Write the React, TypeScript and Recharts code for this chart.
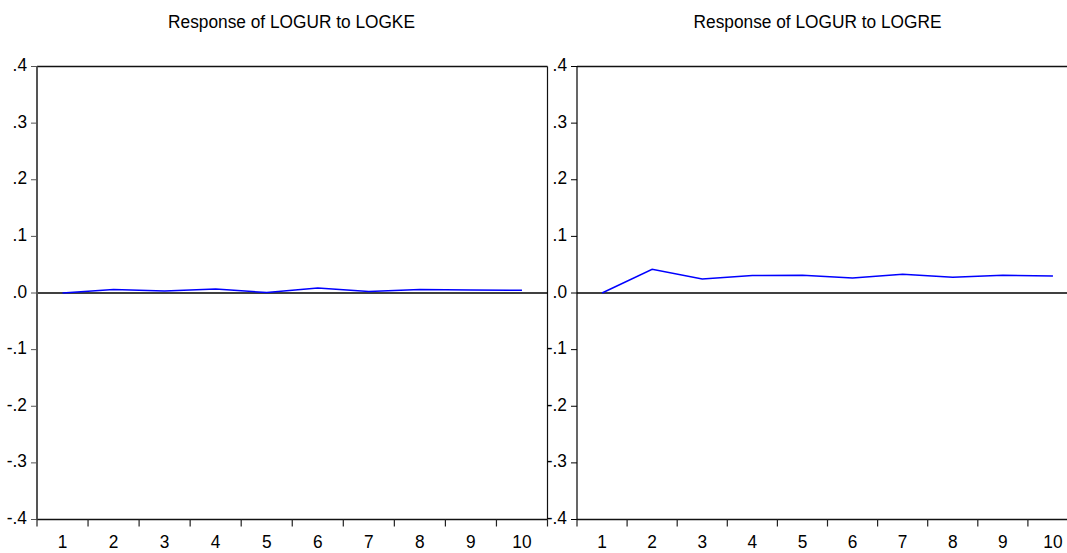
import React from "react";
import { LineChart, Line, XAxis, YAxis, ReferenceLine } from "recharts";

// Impulse responses of LOGUR over a 10-period horizon
const periods = [1, 2, 3, 4, 5, 6, 7, 8, 9, 10];
const responseToKE = [0.0, 0.006, 0.0035, 0.007, 0.0008, 0.009, 0.0025, 0.006, 0.0052, 0.0048];
const responseToRE = [0.0, 0.042, 0.0248, 0.0307, 0.0313, 0.0265, 0.033, 0.0277, 0.0313, 0.03];

const yTicks = [-0.4, -0.3, -0.2, -0.1, 0, 0.1, 0.2, 0.3, 0.4];
const xTicks = [0.5, 1, 1.5, 2, 2.5, 3, 3.5, 4, 4.5, 5, 5.5, 6, 6.5, 7, 7.5, 8, 8.5, 9, 9.5, 10, 10.5];
const titles = ["Response of LOGUR to LOGKE", "Response of LOGUR to LOGRE"];

const FONT = '"Liberation Sans", Arial, sans-serif';
const SQUEEZE = 0.91;

const fmtY = (v: number) => {
  const s = Math.abs(v) < 1e-9 ? "0.0" : v.toFixed(1);
  return s.replace("0.", ".");
};

const YTick = (props: any) => {
  const { x, y, payload } = props;
  return (
    <g transform={`translate(${x},${y})`}>
      <text
        transform={`scale(${SQUEEZE},1)`}
        textAnchor="end"
        dy={4.5}
        fontSize={19}
        fontFamily={FONT}
        fill="#000"
      >
        {fmtY(payload.value)}
      </text>
    </g>
  );
};

const XTick = (props: any) => {
  const { x, y, payload } = props;
  const v = payload.value as number;
  if (!Number.isInteger(v)) {
    return <line x1={x} x2={x} y1={y} y2={y + 7} stroke="#222" strokeWidth={1.2} />;
  }
  return (
    <g transform={`translate(${x},${y + 28})`}>
      <text transform={`scale(${SQUEEZE},1)`} textAnchor="middle" fontSize={19} fontFamily={FONT} fill="#000">
        {v}
      </text>
    </g>
  );
};

type PanelProps = {
  values: number[];
  left: number;
  width: number;
  rightMargin: number;
  axisColor: string;
  axisWidth: number;
};

const Panel = ({ values, left, width, rightMargin, axisColor, axisWidth }: PanelProps) => {
  const data = periods.map((p, i) => ({ period: p, value: values[i] }));
  return (
    <div style={{ position: "absolute", left, top: 0 }}>
      <LineChart
        width={width}
        height={553}
        data={data}
        margin={{ top: 66.5, right: rightMargin, bottom: 0, left: 0 }}
      >
        <XAxis
          dataKey="period"
          type="number"
          domain={[0.5, 10.5]}
          ticks={xTicks}
          interval={0}
          height={33.5}
          tickLine={false}
          tickSize={0}
          tickMargin={0}
          tick={<XTick />}
          axisLine={{ stroke: "#111", strokeWidth: 1.6 }}
        />
        <YAxis
          type="number"
          domain={[-0.4, 0.4]}
          ticks={yTicks}
          interval={0}
          width={37}
          tickSize={6}
          tickMargin={4}
          tick={<YTick />}
          tickLine={{ stroke: axisColor, strokeWidth: 1 }}
          axisLine={{ stroke: axisColor, strokeWidth: axisWidth }}
        />
        <ReferenceLine y={0.4} stroke="#111" strokeWidth={1.6} />
        <ReferenceLine x={10.5} stroke="#111" strokeWidth={1.2} />
        <ReferenceLine y={0} stroke="#000" strokeWidth={1.5} />
        <Line
          type="linear"
          dataKey="value"
          stroke="#0000ff"
          strokeWidth={1.5}
          dot={false}
          isAnimationActive={false}
        />
      </LineChart>
    </div>
  );
};

export default function App() {
  return (
    <div
      style={{
        position: "absolute",
        left: 0,
        top: 0,
        width: 1067,
        height: 553,
        overflow: "hidden",
        background: "#fff",
      }}
    >
      <Panel values={responseToKE} left={0} width={560} rightMargin={12.5} axisColor="#555" axisWidth={2} />
      <Panel values={responseToRE} left={540} width={548} rightMargin={10} axisColor="#000" axisWidth={1.2} />
      <svg
        width={1067}
        height={553}
        style={{ position: "absolute", left: 0, top: 0, pointerEvents: "none" }}
      >
        {titles.map((t, i) => (
          <g key={t} transform={`translate(${i === 0 ? 291.5 : 817.5},27.5)`}>
            <text transform={`scale(${SQUEEZE},1)`} textAnchor="middle" fontSize={19} fontFamily={FONT} fill="#000">
              {t}
            </text>
          </g>
        ))}
      </svg>
    </div>
  );
}
